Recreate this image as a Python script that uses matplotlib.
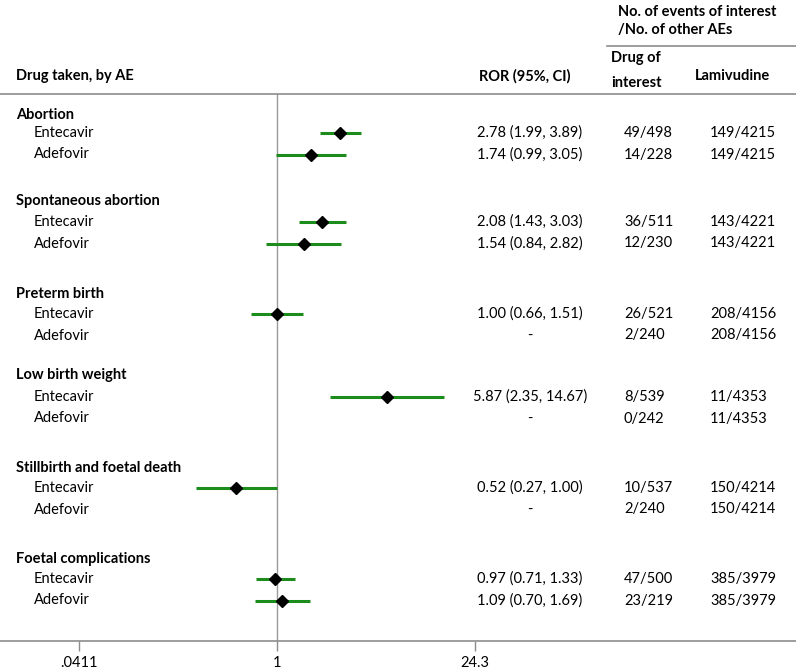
import numpy as np
import matplotlib.pyplot as plt
from matplotlib.lines import Line2D

plt.rcParams['font.family'] = ['Lato', 'DejaVu Sans']

# Data
groups = ["Abortion", "Spontaneous abortion", "Preterm birth",
          "Low birth weight", "Stillbirth and foetal death", "Foetal complications"]
drugs = ["Entecavir", "Adefovir"]

ent_ror = [2.78, 2.08, 1.00, 5.87, 0.52, 0.97]
ent_lo = [1.99, 1.43, 0.66, 2.35, 0.27, 0.71]
ent_hi = [3.89, 3.03, 1.51, 14.67, 1.00, 1.33]

ade_ror = [1.74, 1.54, None, None, None, 1.09]
ade_lo = [0.99, 0.84, None, None, None, 0.70]
ade_hi = [3.05, 2.82, None, None, None, 1.69]

ent_cnt = ["49/498", "36/511", "26/521", "8/539", "10/537", "47/500"]
ade_cnt = ["14/228", "12/230", "2/240", "0/242", "2/240", "23/219"]
lam_cnt = ["149/4215", "143/4221", "208/4156", "11/4353", "150/4214", "385/3979"]

xticks = [0.0411, 1, 24.3]
xticklabels = [".0411", "1", "24.3"]

# Layout (pixel positions of the reference)
W, H = 796, 669
top_y, bot_y = 94, 641
head_y = [115, 201, 294, 375, 468, 559]
row1_y = [133, 222, 314, 397, 488, 579]
row_gap = 21.5
fs = 10.5
green = "#1c8c1c"
grey = "#8c8c8c"

fig = plt.figure(figsize=(W / 100, H / 100), dpi=100)
ax = fig.add_axes([0, (H - bot_y) / H, 1, (bot_y - top_y) / H])
ax.set_xscale('log')
px = 198 / np.log(24.3)          # pixels per log unit
ax.set_xlim(np.exp(-277 / px), np.exp((W - 277) / px))
ax.set_ylim(bot_y, top_y)

for s in ['left', 'right']:
    ax.spines[s].set_visible(False)
for s in ['top', 'bottom']:
    ax.spines[s].set_color(grey)
    ax.spines[s].set_linewidth(1.2)
ax.set_yticks([])
ax.set_xticks(xticks)
ax.set_xticklabels(xticklabels)
ax.xaxis.set_minor_locator(plt.NullLocator())
ax.tick_params(axis='x', length=7, width=1, color=grey, pad=4, labelsize=fs)

ax.axvline(1, color="#9a9a9a", lw=1)

tr = ax.get_yaxis_transform()

# header
ax.text(16 / W, 76, "Drug taken, by AE", transform=tr, weight='bold', fontsize=fs, va='center')
ax.text(525 / W, 76, "ROR (95%, CI)", transform=tr, weight='bold', fontsize=fs, va='center', ha='center')
ax.text(611 / W, 58, "Drug of", transform=tr, weight='bold', fontsize=fs, va='center')
ax.text(611 / W, 83, "interest", transform=tr, weight='bold', fontsize=fs, va='center')
ax.text(732 / W, 76, "Lamivudine", transform=tr, weight='bold', fontsize=fs, va='center', ha='center')
ax.text(618 / W, 12, "No. of events of interest", transform=tr, weight='bold', fontsize=fs, va='center')
ax.text(618 / W, 30, "/No. of other AEs", transform=tr, weight='bold', fontsize=fs, va='center')
fig.add_artist(Line2D([607 / W, 1], [1 - 46 / H] * 2, color=grey, lw=1.2))

for i, g in enumerate(groups):
    ax.text(16 / W, head_y[i], g, transform=tr, weight='bold', fontsize=fs, va='center')
    rows = [(ent_ror[i], ent_lo[i], ent_hi[i], ent_cnt[i]),
            (ade_ror[i], ade_lo[i], ade_hi[i], ade_cnt[i])]
    for j, (r, lo, hi, cnt) in enumerate(rows):
        y = row1_y[i] + j * row_gap
        ax.text(34 / W, y, drugs[j], transform=tr, fontsize=fs, va='center')
        if r is None:
            txt = "-"
        else:
            ax.plot([lo, hi], [y, y], color=green, lw=2.2, solid_capstyle='butt', zorder=2)
            ax.plot(r, y, marker='D', color='black', ms=5.8, zorder=3)
            txt = f"{r:.2f} ({lo:.2f}, {hi:.2f})"
        ax.text(530 / W, y, txt, transform=tr, fontsize=fs, va='center', ha='center')
        ax.text(624 / W, y, cnt, transform=tr, fontsize=fs, va='center')
        ax.text(710 / W, y, lam_cnt[i], transform=tr, fontsize=fs, va='center')

fig.savefig("out.png", dpi=100)
